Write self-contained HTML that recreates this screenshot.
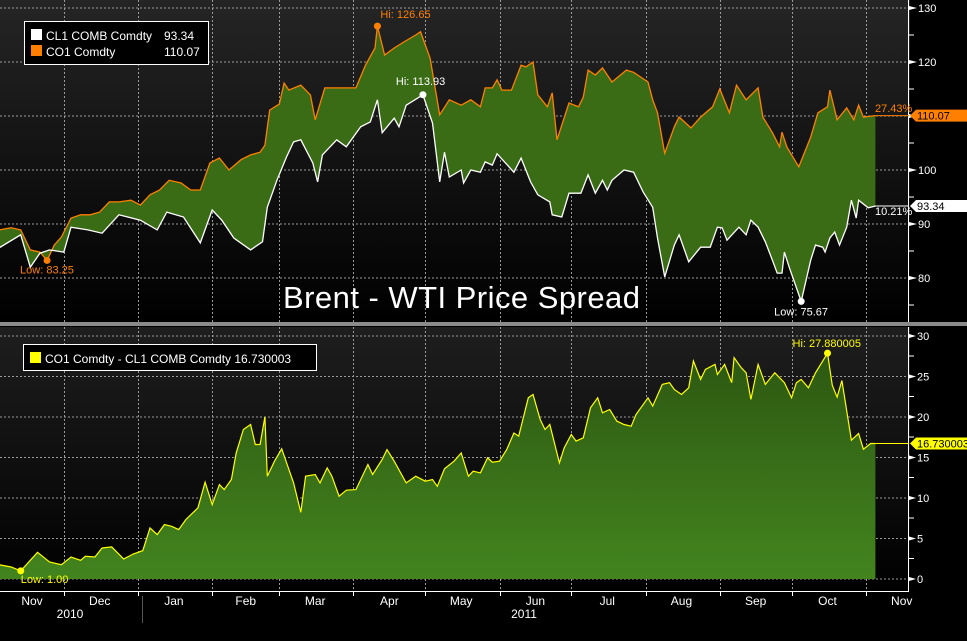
<!DOCTYPE html>
<html><head><meta charset="utf-8"><style>
html,body{margin:0;padding:0;background:#000;}
svg{display:block;font-family:"Liberation Sans",sans-serif;}
</style></head><body>
<svg id="chart" width="967" height="641" viewBox="0 0 967 641">
<defs>
<linearGradient id="bgTop" x1="0" y1="0" x2="0" y2="1"><stop offset="0" stop-color="#252525"/><stop offset="1" stop-color="#000"/></linearGradient>
<linearGradient id="bgBot" x1="0" y1="0" x2="0" y2="1"><stop offset="0" stop-color="#1e1e1e"/><stop offset="1" stop-color="#000"/></linearGradient>
<linearGradient id="fillBot" x1="0" y1="0" x2="0" y2="1"><stop offset="0" stop-color="#2d5812"/><stop offset="1" stop-color="#43841e"/></linearGradient>
</defs>
<rect x="0" y="0" width="910" height="322" fill="url(#bgTop)"/>
<rect x="0" y="327" width="910" height="264" fill="url(#bgBot)"/>
<rect x="0" y="322" width="967" height="4" fill="#8a8a8a"/>
<g id="grid"></g>
<g id="marks"></g>
<g id="axes"></g>
<g id="labels"></g>
<text x="283" y="308" fill="#fff" font-size="31" textLength="357">Brent - WTI Price Spread</text>
<g>
<rect x="24.5" y="21.5" width="184" height="43" fill="#000" stroke="#fff" stroke-width="1"/>
<rect x="31" y="29" width="11" height="11" fill="#fff"/>
<text x="46" y="40" fill="#fff" font-size="12">CL1 COMB Comdty</text>
<text x="164" y="40" fill="#fff" font-size="12">93.34</text>
<rect x="31" y="45" width="11" height="11" fill="#ff8000"/>
<text x="46" y="56" fill="#fff" font-size="12">CO1 Comdty</text>
<text x="164" y="56" fill="#fff" font-size="12">110.07</text>
</g>
<g>
<rect x="23.5" y="344.5" width="293" height="26" fill="#000" stroke="#fff" stroke-width="1"/>
<rect x="30" y="352" width="11" height="11" fill="#ffff00"/>
<text x="45" y="363" fill="#fff" font-size="12">CO1 Comdty - CL1 COMB Comdty  16.730003</text>
</g>
</svg>
<script>
const brentDays=[3,8,12,16,20,23,26,29,33,37,41,45,49,53,58,62,66,70,74,79,83,87,91,95,99,104,108,112,114,116,120,122,124,129,133,135,139,145,152,156,160,161,164,168,172,177,179,183,187,191,196,200,204,206,209,211,213,217,221,223,226,228,232,234,236,241,245,247,249,252,255,259,265,268,274,276,278,281,285,287,292,296,301,304,308,311,315,320,322,326,329,330,332,337,342,345,349,350,353,357,360,362,364,369];
const brentVals=[88.9,89.3,88.9,85.2,84.8,83.25,86.1,87.6,91.1,91.7,91.7,92.2,94.1,94.1,94.4,93.5,95.4,96.3,98.1,97.6,96.3,96.3,101.3,102.2,100.0,101.9,102.8,103.3,104.6,111.1,112.2,116.1,114.8,115.7,113.9,109.3,115.2,115.2,115.2,119.4,122.6,126.65,121.3,122.6,123.7,125.0,125.6,120.7,110.2,113.0,112.0,113.0,111.7,115.2,115.2,116.7,114.8,114.8,119.4,119.1,120.0,113.9,111.7,114.3,105.6,112.4,111.7,113.5,118.5,117.6,118.9,116.3,118.5,118.1,116.3,113.0,110.6,103.1,108.0,109.8,107.8,109.8,111.7,115.0,110.6,115.7,113.0,115.2,109.8,106.9,104.3,107.0,104.3,100.6,106.1,110.6,111.7,114.8,109.3,111.5,109.3,112.0,109.8,110.07];
const wtiDays=[3,12,16,20,24,30,33,40,46,53,62,69,73,80,87,92,96,101,108,113,115,119,123,126,129,134,136,138,144,148,154,158,161,163,168,170,173,180,184,187,189,191,196,197,200,204,206,209,211,218,221,225,228,233,234,238,241,246,249,252,255,257,259,264,268,272,276,278,281,285,287,291,296,300,303,305,307,312,315,317,320,323,326,328,330,331,333,338,342,344,347,348,350,352,354,357,359,361,362,366,369];
const wtiVals=[85.6,88.0,82.0,84.6,85.2,84.8,89.4,88.9,88.3,91.7,90.7,88.9,92.2,91.3,86.5,92.6,90.7,87.4,85.2,86.7,93.1,98.1,102.4,105.2,105.6,101.3,97.8,102.8,105.6,104.3,108.0,108.9,113.0,106.9,109.6,108.0,112.0,113.93,108.7,97.8,103.3,98.7,100.0,97.6,100.0,99.6,101.5,100.9,103.0,99.6,102.2,97.8,95.4,94.1,91.7,91.3,95.7,95.7,99.1,95.7,98.1,96.3,98.1,100.0,99.6,95.9,93.1,87.4,80.2,86.1,88.0,83.0,85.7,85.7,89.4,89.3,87.0,89.4,88.0,90.7,89.4,86.7,83.3,80.9,80.9,84.8,82.0,75.67,83.3,86.1,85.7,84.8,87.4,88.5,86.1,89.4,94.4,91.1,94.4,93.0,93.34];
const spreadDays=[3,8,12,19,24,29,33,37,39,43,46,50,55,59,63,66,69,72,75,78,81,86,89,92,95,97,100,102,105,108,110,112,114,115,118,121,126,129,131,135,137,140,142,145,148,152,157,159,163,165,168,173,177,181,184,186,189,193,196,199,201,204,207,209,212,215,218,220,224,226,229,231,233,237,239,242,244,247,250,253,255,258,261,264,267,269,274,276,280,283,285,288,291,293,296,298,302,303,306,309,310,313,315,317,320,323,327,331,334,336,338,341,344,349,351,353,355,359,362,364,367,369];
const spreadVals=[1.77,1.48,1.00,3.30,2.10,1.77,2.72,2.31,2.80,2.72,3.83,3.96,2.47,3.09,3.50,6.30,5.48,6.72,6.51,6.10,7.34,8.78,11.95,9.19,11.66,11.04,12.28,15.57,18.46,19.08,16.61,16.61,20.02,12.69,14.54,16.07,11.87,8.24,12.69,12.90,11.87,13.72,12.69,10.22,10.96,11.04,14.13,12.90,14.75,15.98,14.54,11.87,12.69,12.07,12.28,11.45,13.60,14.54,15.57,12.69,13.31,13.10,14.96,14.42,14.54,15.98,18.03,17.63,22.37,22.78,19.69,18.46,19.08,14.34,16.19,17.84,17.02,17.43,21.13,22.37,20.52,20.93,19.49,19.08,18.87,20.31,22.37,21.34,24.02,24.23,23.40,22.78,23.61,26.91,24.64,25.87,26.49,25.25,26.49,24.23,27.32,26.08,25.46,22.17,26.49,24.02,25.46,24.23,22.37,24.23,24.64,23.61,25.46,27.880005,23.90,22.46,24.50,17.13,17.96,16.03,16.73,16.730003];
const topTicks=[130,120,110,100,90,80];
const botTicks=[30,25,20,15,10,5,0];
const monthStarts=[30,61,92,120,151,181,212,242,273,304,334,365];
const monthLabels=["Nov","Dec","Jan","Feb","Mar","Apr","May","Jun","Jul","Aug","Sep","Oct","Nov"];
const monthMids=[-1,45,76,106,135,166,196,227,257,288,319,349,380];

const NS="http://www.w3.org/2000/svg";
function X(d){return d*2.394-8;}
function YT(v){return 8+(130-v)*5.4;}
function YB(v){return 579-v*8.1;}
function mk(tag,attrs,parent){const e=document.createElementNS(NS,tag);for(const k in attrs)e.setAttribute(k,attrs[k]);parent.appendChild(e);return e;}
const grid=document.getElementById('grid'),marks=document.getElementById('marks'),axes=document.getElementById('axes'),labels=document.getElementById('labels');

topTicks.forEach(v=>{const l=mk('line',{x1:0,x2:908,y1:YT(v),y2:YT(v),stroke:'#9a9a9a','stroke-dasharray':'2,2','stroke-width':1},grid);

});
botTicks.forEach(v=>{const l=mk('line',{x1:0,x2:908,y1:YB(v),y2:YB(v),stroke:'#9a9a9a','stroke-dasharray':'2,2','stroke-width':1},grid);

});
monthStarts.forEach(d=>{const x=Math.round(X(d))+0.5;
const a=mk('line',{x1:x,x2:x,y1:0,y2:322,stroke:'#9a9a9a','stroke-dasharray':'2,2'},grid);


const b=mk('line',{x1:x,x2:x,y1:327,y2:591,stroke:'#9a9a9a','stroke-dasharray':'2,2'},grid);

});

let pts=brentDays.map((d,i)=>X(d).toFixed(1)+','+YT(brentVals[i]).toFixed(1));
let wpts=wtiDays.map((d,i)=>X(d).toFixed(1)+','+YT(wtiVals[i]).toFixed(1));
const area=mk('polygon',{points:['0,'+YT(brentVals[0]).toFixed(1)].concat(pts,wpts.slice().reverse(),['0,'+YT(wtiVals[0]).toFixed(1)]).join(' '),fill:'#3a6c16'},marks);


const bl=mk('polyline',{points:['0,'+YT(brentVals[0]).toFixed(1)].concat(pts).join(' '),fill:'none',stroke:'#ff8000','stroke-width':1.3},marks);


const wl=mk('polyline',{points:['0,'+YT(wtiVals[0]).toFixed(1)].concat(wpts).join(' '),fill:'none',stroke:'#fff','stroke-width':1.3},marks);



let spts=spreadDays.map((d,i)=>X(d).toFixed(1)+','+YB(spreadVals[i]).toFixed(1));
const lastX=X(spreadDays[spreadDays.length-1]).toFixed(1);
const sa=mk('polygon',{points:['0,'+YB(0),'0,'+YB(spreadVals[0]).toFixed(1)].concat(spts,[lastX+','+YB(0)]).join(' '),fill:'url(#fillBot)'},marks);


const sl=mk('polyline',{points:['0,'+YB(spreadVals[0]).toFixed(1)].concat(spts).join(' '),fill:'none',stroke:'#ffff00','stroke-width':1.2},marks);



const ay=mk('line',{x1:908.5,x2:908.5,y1:0,y2:322,stroke:'#fff'},axes);


const ay2=mk('line',{x1:908.5,x2:908.5,y1:327,y2:591,stroke:'#fff'},axes);


const ax=mk('line',{x1:0,x2:909,y1:591.5,y2:591.5,stroke:'#fff'},axes);


topTicks.forEach(v=>{const y=YT(v);
const p=mk('polygon',{points:`909,${y-2} 917,${y} 909,${y+2}`,fill:'#fff'},axes);


const t=mk('text',{x:918,y:y+4,fill:'#fff','font-size':11},labels);t.textContent=v;


const m=mk('line',{x1:909,x2:914,y1:y+27,y2:y+27,stroke:'#fff'},axes);

});
botTicks.forEach(v=>{const y=YB(v);
const p=mk('polygon',{points:`909,${y-2} 916,${y} 909,${y+2}`,fill:'#fff'},axes);


const t=mk('text',{x:917,y:y+4,fill:'#fff','font-size':11},labels);t.textContent=v;


if(v>0){const m=mk('line',{x1:909,x2:914,y1:y+20,y2:y+20,stroke:'#fff'},axes);

}});
monthStarts.forEach(d=>{const x=Math.round(X(d))+0.5;
const t=mk('line',{x1:x,x2:x,y1:591,y2:596,stroke:'#fff'},axes);

});
monthLabels.forEach((m,i)=>{const t=mk('text',{x:Math.max(X(monthMids[i]),32),y:605,fill:'#fff','font-size':12,'text-anchor':'middle'},labels);t.textContent=m;

});
const sep=mk('line',{x1:142.5,x2:142.5,y1:596,y2:623,stroke:'#555'},axes);


[["2010",70],["2011",524]].forEach(([s,x])=>{const t=mk('text',{x:x,y:618,fill:'#fff','font-size':12,'text-anchor':'middle'},labels);t.textContent=s;

});

function tag(y,txt,bg,fg,name){const g=mk('g',{},labels);


mk('polygon',{points:`910,${y} 916,${y-6} 967,${y-6} 967,${y+6} 916,${y+6}`,fill:bg},g);
const t=mk('text',{x:917,y:y+4,fill:fg,'font-size':11},g);t.textContent=txt;}
const lb=brentVals[brentVals.length-1],lw=wtiVals[wtiVals.length-1],ls=spreadVals[spreadVals.length-1];
const xe=X(369);
const l1=mk('line',{x1:xe,x2:909,y1:YT(lb),y2:YT(lb),stroke:'#ff8000'},labels);


const l2=mk('line',{x1:xe,x2:909,y1:YT(lw),y2:YT(lw),stroke:'#fff'},labels);


const l3=mk('line',{x1:xe,x2:909,y1:YB(ls),y2:YB(ls),stroke:'#ffff00'},labels);


tag(YT(lb),lb.toFixed(2),'#ff8000','#000','brent-price-tag');
tag(YT(lw),lw.toFixed(2),'#fff','#000','wti-price-tag');
tag(YB(ls),ls.toFixed(6),'#ffff00','#000','spread-price-tag');
function txt(x,y,s,c,name){const t=mk('text',{x:x,y:y,fill:c,'font-size':11},labels);t.textContent=s;

}
txt(875,112,'27.43%','#ff8000','brent-pct-label');
txt(875,215,'10.21%','#fff','wti-pct-label');
function dot(x,y,c,name){const d=mk('circle',{cx:x,cy:y,r:3.5,fill:c},labels);

}
function extreme(days,vals,ys,c,isMax,fmt,dx,dy,name){let idx=0;vals.forEach((v,i)=>{if(isMax?v>vals[idx]:v<vals[idx])idx=i;});
const x=Math.max(X(days[idx]),20),y=ys(vals[idx]);dot(x,y,c,name+'-dot');
txt(x+dx,y+dy,(isMax?'Hi: ':'Low: ')+fmt(vals[idx]),c,name+'-label');}
extreme(brentDays,brentVals,YT,'#ff8000',true,v=>v.toFixed(2),3,-8,'brent-high');
extreme(brentDays,brentVals,YT,'#ff8000',false,v=>v.toFixed(2),-27,13,'brent-low');
extreme(wtiDays,wtiVals,YT,'#fff',true,v=>v.toFixed(2),-27,-10,'wti-high');
extreme(wtiDays,wtiVals,YT,'#fff',false,v=>v.toFixed(2),-27,14,'wti-low');
extreme(spreadDays,spreadVals,YB,'#ffff00',true,v=>v.toFixed(6),-35,-6,'spread-high');
extreme(spreadDays,spreadVals,YB,'#ffff00',false,v=>v.toFixed(2),0,12,'spread-low');
</script>
</body></html>
